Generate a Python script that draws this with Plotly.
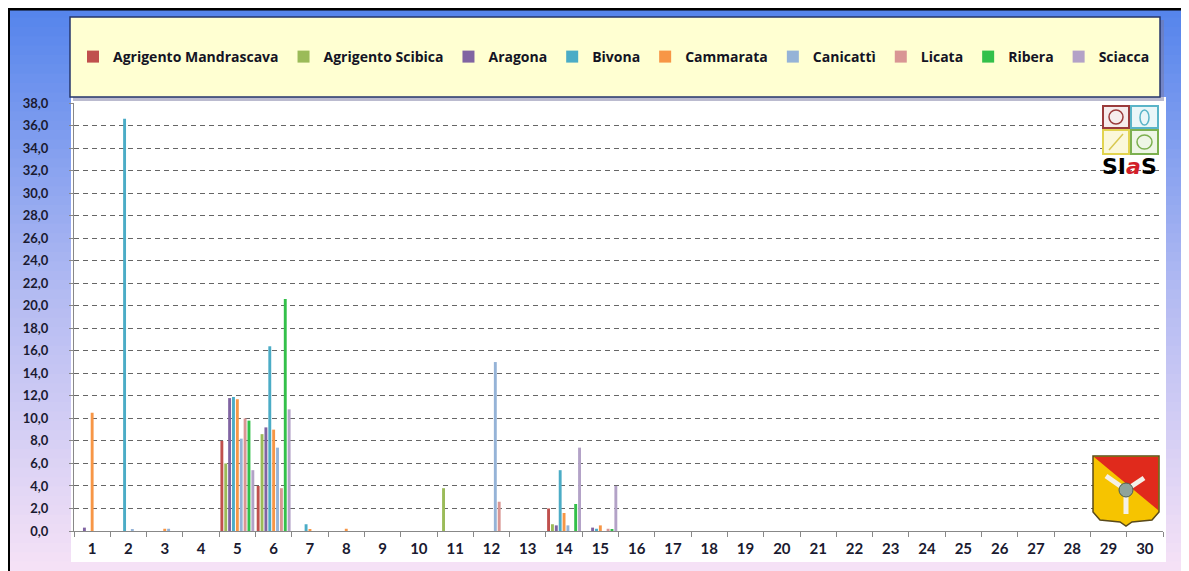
import plotly.graph_objects as go

days = [str(d) for d in range(1, 31)]

def series(vals):
    out = [0.0] * 30
    for d, v in vals.items():
        out[d - 1] = v
    return out

agrigento_mandrascava = series({5: 8.0, 6: 4.0, 14: 2.0})
agrigento_scibica = series({5: 6.0, 6: 8.6, 11: 3.8, 14: 0.6})
aragona = series({1: 0.3, 5: 11.8, 6: 9.2, 14: 0.5, 15: 0.3})
bivona = series({2: 36.6, 5: 11.9, 6: 16.4, 7: 0.6, 14: 5.4, 15: 0.2})
cammarata = series({1: 10.5, 3: 0.2, 5: 11.7, 6: 9.0, 7: 0.1, 8: 0.2, 14: 1.6, 15: 0.5})
canicatti = series({2: 0.1, 3: 0.2, 5: 8.2, 6: 7.4, 12: 15.0, 14: 0.5})
licata = series({5: 10.0, 6: 3.8, 12: 2.6, 15: 0.2})
ribera = series({5: 9.8, 6: 20.6, 14: 2.4, 15: 0.1})
sciacca = series({5: 5.4, 6: 10.8, 14: 7.4, 15: 4.0})

station_names = ["Agrigento Mandrascava", "Agrigento Scibica", "Aragona", "Bivona",
                 "Cammarata", "Canicattì", "Licata", "Ribera", "Sciacca"]
station_values = [agrigento_mandrascava, agrigento_scibica, aragona, bivona,
                  cammarata, canicatti, licata, ribera, sciacca]
colors = ["#C0504D", "#9BBB59", "#8064A2", "#4BACC6", "#F79646",
          "#95B3D7", "#D99694", "#33C04A", "#B3A2C7"]

y_ticks = [i * 2.0 for i in range(0, 20)]

# page body has an 8px margin; work in screen pixels
OFF = 8
SW, SH = 1189, 571
W, H = SW - OFF, SH - OFF
L, R, T, B = 74, 1163, 103, 531   # plot area in screen px

def X(px):
    return (px - L) / (R - L)

def Y(py):
    return (B - py) / (B - T)

fig = go.Figure()
for name, vals, col in zip(station_names, station_values, colors):
    fig.add_trace(go.Bar(x=days, y=vals, name=name, marker_color=col,
                         marker_line_width=0))

shapes = []
n = 60
def lerp(a, b, t):
    return tuple(int(round(a[i] + (b[i] - a[i]) * t)) for i in range(3))
c0, c1, c2 = (84, 132, 236), (178, 186, 242), (246, 226, 246)
for i in range(n):
    t = (i + 0.5) / n
    c = lerp(c0, c1, t / 0.5) if t < 0.5 else lerp(c1, c2, (t - 0.5) / 0.5)
    y0 = OFF + (SH - OFF) * i / n
    y1 = OFF + (SH - OFF) * (i + 1) / n + 1
    shapes.append(dict(type="rect", xref="paper", yref="paper", layer="below",
                       x0=X(OFF), x1=X(SW), y0=Y(y1), y1=Y(y0),
                       fillcolor="rgb(%d,%d,%d)" % c, line_width=0))
# white chart area
shapes.append(dict(type="rect", xref="paper", yref="paper", layer="below",
                   x0=X(71), x1=X(1166), y0=Y(562), y1=Y(97),
                   fillcolor="white", line_width=0))
# black frame
shapes.append(dict(type="line", xref="paper", yref="paper", x0=X(OFF), x1=X(SW), y0=Y(9), y1=Y(9),
                   line=dict(color="black", width=3)))
shapes.append(dict(type="line", xref="paper", yref="paper", x0=X(9), x1=X(9), y0=Y(OFF), y1=Y(SH),
                   line=dict(color="black", width=2)))
# legend box shadow and box
shapes.append(dict(type="rect", xref="paper", yref="paper", layer="below",
                   x0=X(73), x1=X(1164), y0=Y(101), y1=Y(20),
                   fillcolor="rgba(120,120,160,0.5)", line_width=0))
shapes.append(dict(type="rect", xref="paper", yref="paper", layer="below",
                   x0=X(70), x1=X(1160), y0=Y(97), y1=Y(17),
                   fillcolor="#FFFFD2", line=dict(color="#26366B", width=1.5)))

# SIAS logo squares
sq = [((1103, 106, 1129, 128), "#9B3B3B", "#F6ECEC"),
      ((1131, 106, 1158, 128), "#5AB4C8", "#EAF6F8"),
      ((1103, 130, 1129, 154), "#E2D450", "#FBF8DA"),
      ((1131, 130, 1158, 154), "#7CB050", "#EEF6E6")]
for (x0, y0, x1, y1), lc, fc in sq:
    shapes.append(dict(type="rect", xref="paper", yref="paper",
                       x0=X(x0), x1=X(x1), y0=Y(y1), y1=Y(y0),
                       fillcolor=fc, line=dict(color=lc, width=2)))
shapes.append(dict(type="circle", xref="paper", yref="paper",
                   x0=X(1109), x1=X(1123), y0=Y(124), y1=Y(110),
                   line=dict(color="#9B3B3B", width=1.5)))
shapes.append(dict(type="circle", xref="paper", yref="paper",
                   x0=X(1140), x1=X(1149), y0=Y(125), y1=Y(110),
                   line=dict(color="#5AB4C8", width=1.5)))
shapes.append(dict(type="line", xref="paper", yref="paper",
                   x0=X(1109), x1=X(1123), y0=Y(150), y1=Y(134),
                   line=dict(color="#D8C850", width=1.5)))
shapes.append(dict(type="circle", xref="paper", yref="paper",
                   x0=X(1137), x1=X(1152), y0=Y(149), y1=Y(135),
                   line=dict(color="#7CB050", width=1.5)))

def pth(points):
    s = "M %f,%f " % (X(points[0][0]), Y(points[0][1]))
    for p in points[1:]:
        s += "L %f,%f " % (X(p[0]), Y(p[1]))
    return s + "Z"

shield = [(1093, 456), (1159, 456), (1159, 512), (1152, 520), (1132, 522), (1126, 526),
          (1120, 522), (1100, 520), (1093, 512)]
shapes.append(dict(type="path", xref="paper", yref="paper", path=pth(shield),
                   fillcolor="#F6C400", line=dict(color="#5A4A1A", width=1.5)))
shapes.append(dict(type="path", xref="paper", yref="paper",
                   path=pth([(1094, 457), (1158, 457), (1158, 510)]),
                   fillcolor="#E02A1C", line_width=0))
cx, cy = 1126, 490
for (dx, dy) in [(-20, -14), (18, -12), (0, 24)]:
    shapes.append(dict(type="line", xref="paper", yref="paper",
                       x0=X(cx), x1=X(cx + dx), y0=Y(cy), y1=Y(cy + dy),
                       line=dict(color="#F4F0E8", width=5)))
shapes.append(dict(type="circle", xref="paper", yref="paper",
                   x0=X(cx - 7), x1=X(cx + 7), y0=Y(cy + 7), y1=Y(cy - 7),
                   fillcolor="#8FA39A", line=dict(color="#4E5E50", width=1)))

annotations = [dict(xref="paper", yref="paper", x=X(1129), y=Y(166),
                    text="<b>SI<i><span style='color:#D21F2A'>a</span></i>S</b>",
                    showarrow=False, font=dict(family="DejaVu Sans", size=22, color="black"),
                    xanchor="center", yanchor="middle")]

fig.update_layout(
    width=W, height=H,
    margin=dict(l=L - OFF, r=SW - R, t=T - OFF, b=SH - B, pad=0),
    paper_bgcolor="white", plot_bgcolor="white",
    barmode="group", bargap=0.04, bargroupgap=0.25,
    separators=",.",
    showlegend=True,
    legend=dict(orientation="h", x=X(73), y=Y(57), xanchor="left", yanchor="middle",
                bgcolor="rgba(0,0,0,0)", borderwidth=0,
                font=dict(family="Open Sans", size=14, color="#141424", weight="bold"),
                itemwidth=30, tracegroupgap=0),
    shapes=shapes,
    annotations=annotations,
    font=dict(family="Lato"),
)
fig.update_xaxes(type="category", categoryorder="array", categoryarray=days,
                 tickson="boundaries", ticks="outside", ticklen=5, tickcolor="#888",
                 showline=True, linecolor="#888", linewidth=1, showgrid=False,
                 ticklabelstandoff=4,
                 tickfont=dict(family="Lato", size=15, color="#1A1A30", weight="bold"))
fig.update_yaxes(range=[0, 38], tickvals=y_ticks, tickformat=".1f",
                 ticks="outside", ticklen=4, tickcolor="#888",
                 showline=True, linecolor="#888", linewidth=1,
                 showgrid=True, gridcolor="#666", griddash="5px,4px", gridwidth=1,
                 zeroline=False, ticklabelstandoff=18,
                 tickfont=dict(family="Lato", size=13, color="#1A1A30", weight="bold"))

fig.write_html("out.html")
